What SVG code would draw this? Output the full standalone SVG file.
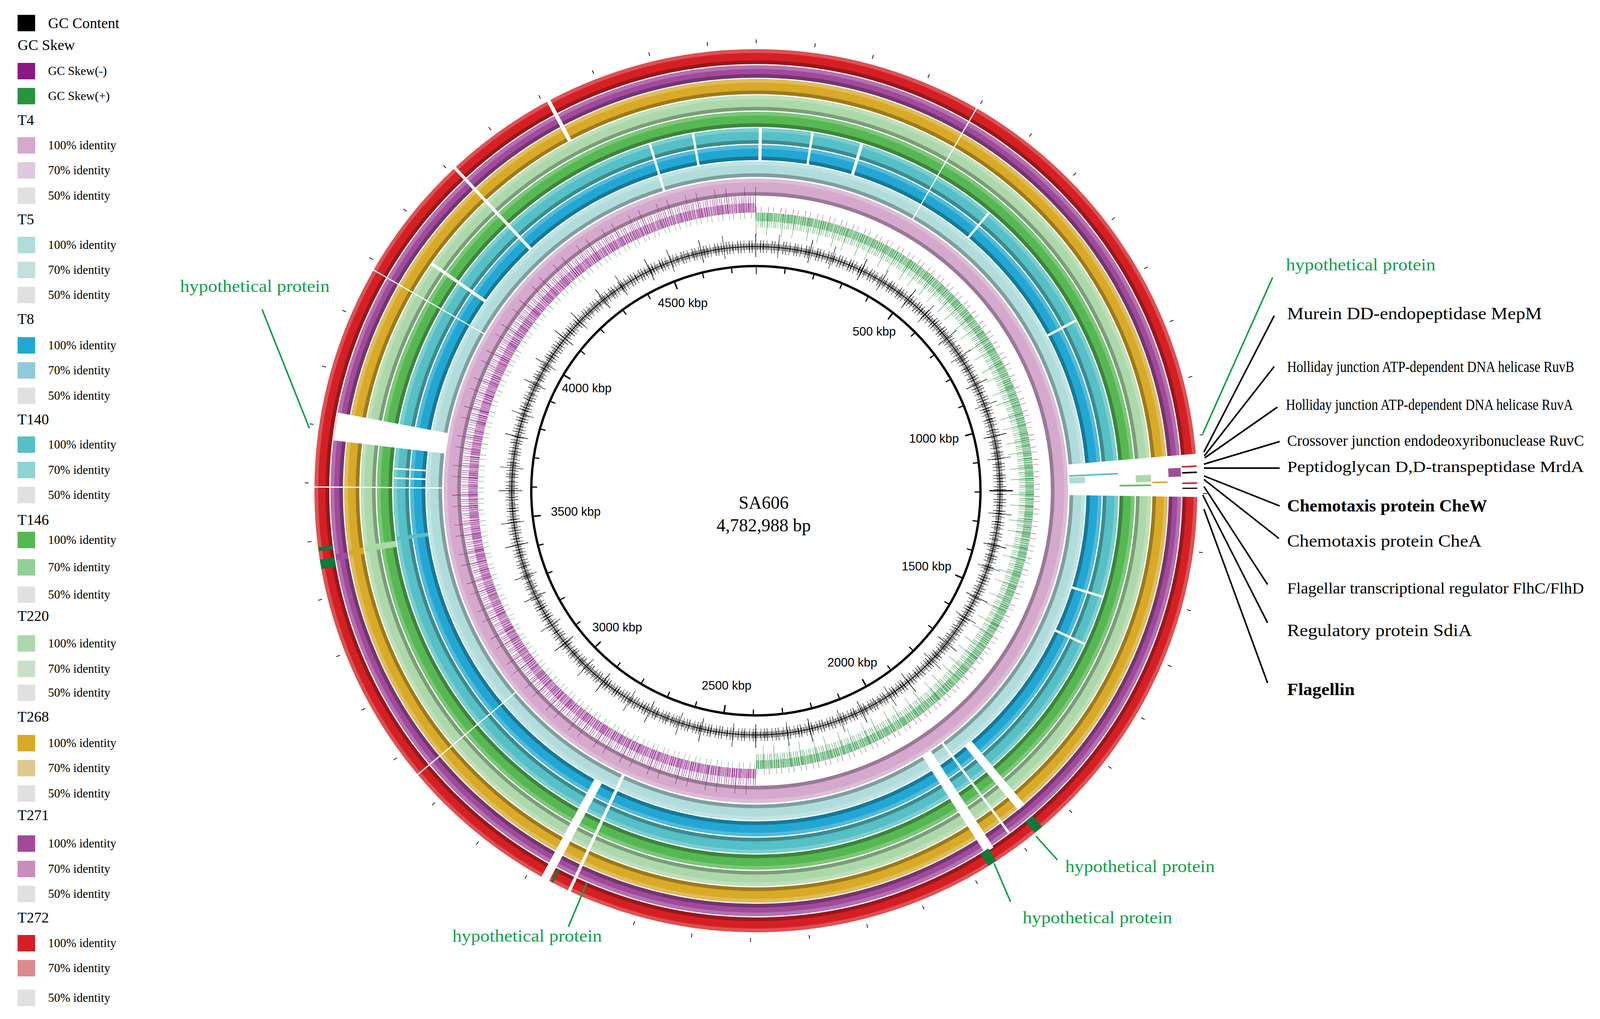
<svg xmlns="http://www.w3.org/2000/svg" width="4386" height="2608" viewBox="0 0 4386 2608">
<style>
.lg{font-family:"Liberation Serif",serif;font-size:38px;fill:#000}
.li{font-family:"Liberation Serif",serif;font-size:31px;fill:#000}
.lb{font-family:"Liberation Serif",serif;font-size:45px;fill:#000}
.ls{font-family:"Liberation Serif",serif;font-size:40px;fill:#000}
.lbb{font-family:"Liberation Serif",serif;font-size:45px;fill:#000;font-weight:bold}
.gl{font-family:"Liberation Serif",serif;font-size:45px;fill:#10a04a}
.kb{font-family:"Liberation Sans",sans-serif;font-size:31px;fill:#000;text-anchor:middle}
.ct{font-family:"Liberation Serif",serif;font-size:46px;fill:#000;text-anchor:middle}
.ring{fill:none}
.hi{fill:none;stroke:#fff;stroke-opacity:.22;stroke-width:9}
.lo{fill:none;stroke:#000;stroke-opacity:.28;stroke-width:9}
.gap{fill:#fff}
.ln{stroke:#000;stroke-width:4;fill:none}
.gln{stroke:#10a04a;stroke-width:4;fill:none}
</style>
<rect width="4386" height="2608" fill="#fff"/>

<g id="legend">
<rect x="45" y="38" width="45" height="42" fill="#000"/><text class="lg" x="123" y="72">GC Content</text>
<text class="lg" x="45" y="128">GC Skew</text>
<rect x="45" y="161" width="45" height="42" fill="#8b1a84"/><text class="li" x="123" y="192">GC Skew(-)</text>
<rect x="45" y="225" width="45" height="42" fill="#27943f"/><text class="li" x="123" y="256">GC Skew(+)</text>

<text class="lg" x="45" y="320">T4</text>
<rect x="45" y="351" width="45" height="42" fill="#d4a9cd"/><text class="li" x="123" y="382">100% identity</text>
<rect x="45" y="415" width="45" height="42" fill="#dfc9de"/><text class="li" x="123" y="446">70% identity</text>
<rect x="45" y="480" width="45" height="42" fill="#e0e0e0"/><text class="li" x="123" y="511">50% identity</text>

<text class="lg" x="45" y="574">T5</text>
<rect x="45" y="606" width="45" height="42" fill="#b0dcdc"/><text class="li" x="123" y="637">100% identity</text>
<rect x="45" y="670" width="45" height="42" fill="#c5dfdc"/><text class="li" x="123" y="701">70% identity</text>
<rect x="45" y="734" width="45" height="42" fill="#e0e0e0"/><text class="li" x="123" y="765">50% identity</text>

<text class="lg" x="45" y="829">T8</text>
<rect x="45" y="863" width="45" height="42" fill="#22a7d3"/><text class="li" x="123" y="894">100% identity</text>
<rect x="45" y="927" width="45" height="42" fill="#91c9dc"/><text class="li" x="123" y="958">70% identity</text>
<rect x="45" y="992" width="45" height="42" fill="#e0e0e0"/><text class="li" x="123" y="1023">50% identity</text>

<text class="lg" x="45" y="1086">T140</text>
<rect x="45" y="1117" width="45" height="42" fill="#55c0c5"/><text class="li" x="123" y="1148">100% identity</text>
<rect x="45" y="1182" width="45" height="42" fill="#8fd3d3"/><text class="li" x="123" y="1213">70% identity</text>
<rect x="45" y="1246" width="45" height="42" fill="#e0e0e0"/><text class="li" x="123" y="1277">50% identity</text>

<text class="lg" x="45" y="1343">T146</text>
<rect x="45" y="1361" width="45" height="42" fill="#56b853"/><text class="li" x="123" y="1392">100% identity</text>
<rect x="45" y="1431" width="45" height="42" fill="#95cf98"/><text class="li" x="123" y="1462">70% identity</text>
<rect x="45" y="1501" width="45" height="42" fill="#e0e0e0"/><text class="li" x="123" y="1532">50% identity</text>

<text class="lg" x="45" y="1589">T220</text>
<rect x="45" y="1626" width="45" height="42" fill="#acd8aa"/><text class="li" x="123" y="1657">100% identity</text>
<rect x="45" y="1691" width="45" height="42" fill="#c9dfc8"/><text class="li" x="123" y="1722">70% identity</text>
<rect x="45" y="1752" width="45" height="42" fill="#e0e0e0"/><text class="li" x="123" y="1783">50% identity</text>

<text class="lg" x="45" y="1847">T268</text>
<rect x="45" y="1881" width="45" height="42" fill="#d9a928"/><text class="li" x="123" y="1912">100% identity</text>
<rect x="45" y="1945" width="45" height="42" fill="#dcc98e"/><text class="li" x="123" y="1976">70% identity</text>
<rect x="45" y="2010" width="45" height="42" fill="#e0e0e0"/><text class="li" x="123" y="2041">50% identity</text>

<text class="lg" x="45" y="2099">T271</text>
<rect x="45" y="2138" width="45" height="42" fill="#a14a9b"/><text class="li" x="123" y="2169">100% identity</text>
<rect x="45" y="2203" width="45" height="42" fill="#c88dbd"/><text class="li" x="123" y="2234">70% identity</text>
<rect x="45" y="2267" width="45" height="42" fill="#e0e0e0"/><text class="li" x="123" y="2298">50% identity</text>

<text class="lg" x="45" y="2361">T272</text>
<rect x="45" y="2393" width="45" height="42" fill="#d42024"/><text class="li" x="123" y="2424">100% identity</text>
<rect x="45" y="2457" width="45" height="42" fill="#dc8b8b"/><text class="li" x="123" y="2488">70% identity</text>
<rect x="45" y="2533" width="45" height="42" fill="#e0e0e0"/><text class="li" x="123" y="2564">50% identity</text>
</g>

<g id="map" transform="translate(1935,1256)">
 <g id="ring-T4"><circle class="ring" r="777" stroke="#d4a9cd" stroke-width="44"/><circle class="hi" r="794"/><circle class="lo" r="760"/></g>
 <g id="ring-T5"><circle class="ring" r="823" stroke="#b0dcdc" stroke-width="40"/><circle class="hi" r="838"/><circle class="lo" r="808"/></g>
 <g id="ring-T8"><circle class="ring" r="865.5" stroke="#22a7d3" stroke-width="39"/><circle class="hi" r="880"/><circle class="lo" r="851"/></g>
 <g id="ring-T140"><circle class="ring" r="908" stroke="#55c0c5" stroke-width="40"/><circle class="hi" r="923"/><circle class="lo" r="893"/></g>
 <g id="ring-T146"><circle class="ring" r="950.5" stroke="#56b853" stroke-width="39"/><circle class="hi" r="965"/><circle class="lo" r="936"/></g>
 <g id="ring-T220"><circle class="ring" r="992.5" stroke="#acd8aa" stroke-width="39"/><circle class="hi" r="1007"/><circle class="lo" r="978"/></g>
 <g id="ring-T268"><circle class="ring" r="1034.5" stroke="#d9a928" stroke-width="39"/><circle class="hi" r="1049"/><circle class="lo" r="1020"/></g>
 <g id="ring-T271"><circle class="ring" r="1073" stroke="#a14a9b" stroke-width="32"/><circle class="hi" r="1084"/><circle class="lo" r="1062"/></g>
 <g id="ring-T272"><circle class="ring" r="1111" stroke="#d42024" stroke-width="38"/><circle class="hi" r="1125"/><circle class="lo" r="1097"/></g>

 <g id="gaps">
  <path class="gap" d="M797,-67 L1131,-95 L1135,16 L800,11 Z"/>
  <path class="gap" d="M-794,-95 L-1081,-129 L-1070,-200 L-786,-147 Z"/>
  <rect class="gap" x="801" y="-13" width="296" height="26" transform="rotate(57)"/>
  <rect class="gap" x="844" y="-11" width="214" height="22" transform="rotate(50)"/>
  <rect class="gap" x="801" y="-3" width="290" height="6" transform="rotate(53.5)"/>
  <rect class="gap" x="844" y="-11" width="290" height="22" transform="rotate(118.5)"/>
  <rect class="gap" x="801" y="-4" width="330" height="8" transform="rotate(115)"/>
  <rect class="gap" x="1013" y="-5" width="120" height="10" transform="rotate(-118)"/>
  <rect class="gap" x="844" y="-4" width="290" height="8" transform="rotate(-133)"/>
  <rect class="gap" x="844" y="-4" width="170" height="8" transform="rotate(-145)"/>
  <rect class="gap" x="844" y="-4" width="86" height="8" transform="rotate(-89.3)"/>
  <rect class="gap" x="844" y="-3" width="86" height="6" transform="rotate(-81)"/>
  <rect class="gap" x="844" y="-4" width="86" height="8" transform="rotate(-73)"/>
  <rect class="gap" x="844" y="-3" width="86" height="6" transform="rotate(-100)"/>
  <rect class="gap" x="801" y="-3" width="128" height="6" transform="rotate(-107)"/>
  <rect class="gap" x="844" y="-3" width="86" height="6" transform="rotate(-50)"/>
  <rect class="gap" x="844" y="-3" width="86" height="6" transform="rotate(-28)"/>
  <rect class="gap" x="844" y="-3" width="86" height="6" transform="rotate(17)"/>
  <rect class="gap" x="844" y="-3" width="86" height="6" transform="rotate(25)"/>
  <rect class="gap" x="801" y="-1.5" width="330" height="3" transform="rotate(180.5)"/>
  <rect class="gap" x="844" y="-2" width="86" height="4" transform="rotate(182)"/>
  <rect class="gap" x="844" y="-2" width="86" height="4" transform="rotate(183.5)"/>
  <rect class="gap" x="801" y="-1.5" width="330" height="3" transform="rotate(-60)"/>
  <rect class="gap" x="801" y="-1.5" width="330" height="3" transform="rotate(140)"/>
  <rect class="gap" x="801" y="-1.5" width="330" height="3" transform="rotate(-150)"/>
 </g>
 <g id="pieces">
  <rect x="803" y="-9" width="40" height="16" fill="#b0dcdc" transform="rotate(-1.8)"/>
  <rect x="973" y="-9" width="39" height="18" fill="#acd8aa" transform="rotate(-1.8)"/>
  <rect x="1057" y="-9" width="32" height="22" fill="#a14a9b" transform="rotate(-2.6)"/>
  <rect x="1092" y="-2" width="38" height="4" fill="#d42024" transform="rotate(-3.2)"/>
  <rect x="1092" y="-2" width="38" height="4" fill="#000" transform="rotate(-2.4)"/>
  <rect x="1092" y="-2" width="38" height="4" fill="#d42024" transform="rotate(-1)"/>
  <rect x="1092" y="-2" width="38" height="3" fill="#000" transform="rotate(-0.3)"/>
  <rect x="803" y="-2" width="125" height="4" fill="#55c0c5" transform="rotate(-2.7)"/>
  <rect x="931" y="-2" width="80" height="4" fill="#56b853" transform="rotate(-0.8)"/>
  <rect x="1015" y="-2" width="39" height="4" fill="#d9a928" transform="rotate(-1.2)"/>
  <rect x="1057" y="-8" width="32" height="16" fill="#a14a9b" transform="rotate(-189)"/>
  <rect x="1015" y="-8" width="39" height="16" fill="#d9a928" transform="rotate(-188.7)"/>
  <rect x="931" y="-8" width="81" height="16" fill="#acd8aa" transform="rotate(-188.4)"/>
  <rect x="846" y="-5" width="82" height="10" fill="#55c0c5" transform="rotate(-187.6)"/>
  <rect x="1092" y="-12" width="38" height="24" fill="#0c7a3a" transform="rotate(-189.6)"/>
  <rect x="1092" y="-5" width="38" height="10" fill="#0c7a3a" transform="rotate(-187.6)"/>
  <rect x="1092" y="-12" width="38" height="24" fill="#0c7a3a" transform="rotate(57.6)"/>
  <rect x="1092" y="-12" width="38" height="24" fill="#0c7a3a" transform="rotate(50.2)"/>
  <rect x="1092" y="-3" width="38" height="6" fill="#0c7a3a" transform="rotate(117.5)"/>
 </g>

 <circle r="1150" fill="none" stroke="#000" stroke-width="10" pathLength="4783" stroke-dasharray="1.2 98.8" transform="rotate(-90)"/>

 <g id="gcskew">
  <path d="M0,-724 A724,724 0 0 0 0,724" fill="none" stroke="#8b1a84" stroke-width="24" pathLength="1500" stroke-dasharray="0.8 0.9 0.6 1.4 0.9 0.7 0.6 1.2"/>
  <path d="M0,-733 A733,733 0 0 0 0,733" fill="none" stroke="#8b1a84" stroke-width="42" pathLength="1500" stroke-dasharray="0.7 3 0.6 4.5 0.8 2.2"/>
  <path d="M0,-745 A745,745 0 0 0 0,745" fill="none" stroke="#8b1a84" stroke-width="66" pathLength="1500" stroke-dasharray="0.7 17 0.6 29"/>
  <path d="M0,-704 A704,704 0 0 0 0,704" fill="none" stroke="#27943f" stroke-width="16" pathLength="1500" stroke-dasharray="0.6 7 0.5 11"/>
  <path d="M0,-701 A701,701 0 0 1 0,701" fill="none" stroke="#27943f" stroke-width="22" pathLength="1500" stroke-dasharray="0.8 0.9 0.6 1.4 0.9 0.7 0.6 1.2"/>
  <path d="M0,-693 A693,693 0 0 1 0,693" fill="none" stroke="#27943f" stroke-width="38" pathLength="1500" stroke-dasharray="0.7 3 0.6 4.5 0.8 2.2"/>
  <path d="M0,-682 A682,682 0 0 1 0,682" fill="none" stroke="#27943f" stroke-width="60" pathLength="1500" stroke-dasharray="0.7 19 0.6 27"/>
  <path d="M0,-720 A720,720 0 0 1 0,720" fill="none" stroke="#8b1a84" stroke-width="14" pathLength="1500" stroke-dasharray="0.6 8 0.5 12"/>
 </g>

 <g id="gccontent">
  <circle r="625" fill="none" stroke="#000" stroke-width="2"/>
  <circle r="625" fill="none" stroke="#000" stroke-width="16" pathLength="2000" stroke-dasharray="0.7 1 0.5 1.6 0.8 0.8 0.5 1.3"/>
  <circle r="625" fill="none" stroke="#000" stroke-width="32" pathLength="2000" stroke-dasharray="0.6 4 0.5 6 0.7 3"/>
  <circle r="628" fill="none" stroke="#000" stroke-width="60" pathLength="2000" stroke-dasharray="0.8 29 0.6 41"/>
 </g>

 <g id="backbone">
  <circle r="575" fill="none" stroke="#000" stroke-width="6"/>
  <circle r="566" fill="none" stroke="#000" stroke-width="12" pathLength="4783" stroke-dasharray="4 96" stroke-dashoffset="2" transform="rotate(-90)"/>
  <circle r="563" fill="none" stroke="#000" stroke-width="18" pathLength="4783" stroke-dasharray="5 495" stroke-dashoffset="2.5" transform="rotate(-90)"/>
 </g>
</g>

<g id="kbp-labels">
 <text class="kb" x="2238" y="859">500 kbp</text>
 <text class="kb" x="2391" y="1133">1000 kbp</text>
 <text class="kb" x="2372" y="1460">1500 kbp</text>
 <text class="kb" x="2182" y="1706">2000 kbp</text>
 <text class="kb" x="1860" y="1765">2500 kbp</text>
 <text class="kb" x="1580" y="1616">3000 kbp</text>
 <text class="kb" x="1474" y="1320">3500 kbp</text>
 <text class="kb" x="1502" y="1004">4000 kbp</text>
 <text class="kb" x="1748" y="786">4500 kbp</text>
</g>

<g id="center-label">
 <text class="ct" x="1955" y="1302">SA606</text>
 <text class="ct" x="1955" y="1360">4,782,988 bp</text>
</g>

<g id="connectors">
 <line class="gln" x1="3079" y1="1110" x2="3258" y2="710"/>
 <line class="ln" x1="3082" y1="1157" x2="3262" y2="808"/>
 <line class="ln" x1="3083" y1="1167" x2="3262" y2="938"/>
 <line class="ln" x1="3084" y1="1172" x2="3270" y2="1042"/>
 <line class="ln" x1="3082" y1="1188" x2="3276" y2="1130"/>
 <line class="ln" x1="3082" y1="1198" x2="3276" y2="1198"/>
 <line class="ln" x1="3082" y1="1218" x2="3276" y2="1295"/>
 <line class="ln" x1="3082" y1="1227" x2="3274" y2="1378"/>
 <line class="ln" x1="3082" y1="1245" x2="3245" y2="1496"/>
 <line class="ln" x1="3079" y1="1267" x2="3245" y2="1594"/>
 <line class="ln" x1="3082" y1="1303" x2="3245" y2="1748"/>
 <line class="gln" x1="671" y1="792" x2="792" y2="1096"/>
 <line class="gln" x1="2652" y1="2140" x2="2707" y2="2201"/>
 <line class="gln" x1="2545" y1="2210" x2="2587" y2="2308"/>
 <line class="gln" x1="1502" y1="2260" x2="1455" y2="2372"/>
</g>

<g id="annotations">
 <text class="gl" x="3292" y="692" textLength="383" lengthAdjust="spacingAndGlyphs">hypothetical protein</text>
 <text class="lb" x="3295" y="817" textLength="652" lengthAdjust="spacingAndGlyphs">Murein DD-endopeptidase MepM</text>
 <text class="ls" x="3295" y="952" textLength="735" lengthAdjust="spacingAndGlyphs">Holliday junction ATP-dependent DNA helicase RuvB</text>
 <text class="ls" x="3292" y="1049" textLength="735" lengthAdjust="spacingAndGlyphs">Holliday junction ATP-dependent DNA helicase RuvA</text>
 <text class="ls" x="3295" y="1141" textLength="760" lengthAdjust="spacingAndGlyphs">Crossover junction endodeoxyribonuclease RuvC</text>
 <text class="ls" x="3295" y="1208" textLength="760" lengthAdjust="spacingAndGlyphs">Peptidoglycan D,D-transpeptidase MrdA</text>
 <text class="lbb" x="3295" y="1309" textLength="512" lengthAdjust="spacingAndGlyphs">Chemotaxis protein CheW</text>
 <text class="lb" x="3295" y="1399" textLength="498" lengthAdjust="spacingAndGlyphs">Chemotaxis protein CheA</text>
 <text class="ls" x="3295" y="1519" textLength="760" lengthAdjust="spacingAndGlyphs">Flagellar transcriptional regulator FlhC/FlhD</text>
 <text class="lb" x="3295" y="1628" textLength="473" lengthAdjust="spacingAndGlyphs">Regulatory protein SdiA</text>
 <text class="lbb" x="3295" y="1779" textLength="173" lengthAdjust="spacingAndGlyphs">Flagellin</text>
 <text class="gl" x="461" y="747" textLength="383" lengthAdjust="spacingAndGlyphs">hypothetical protein</text>
 <text class="gl" x="2727" y="2232" textLength="383" lengthAdjust="spacingAndGlyphs">hypothetical protein</text>
 <text class="gl" x="2618" y="2363" textLength="383" lengthAdjust="spacingAndGlyphs">hypothetical protein</text>
 <text class="gl" x="1158" y="2410" textLength="383" lengthAdjust="spacingAndGlyphs">hypothetical protein</text>
</g>
</svg>
